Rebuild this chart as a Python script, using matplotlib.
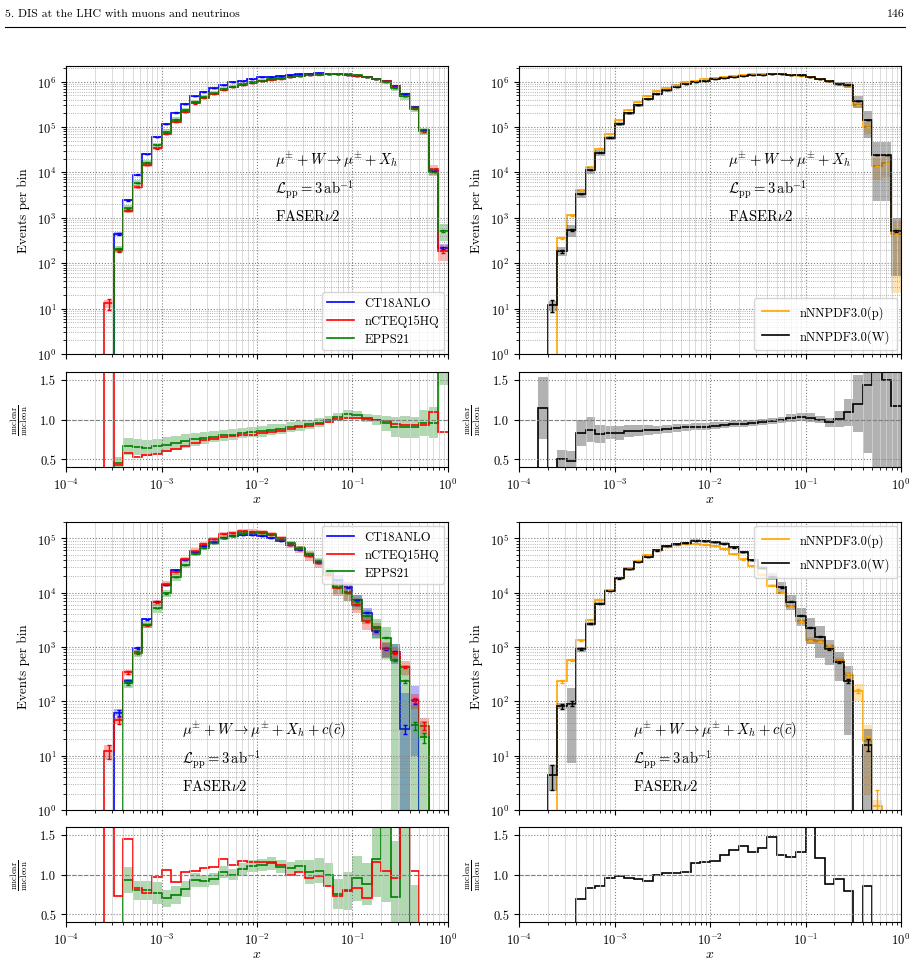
import numpy as np
import matplotlib
matplotlib.use('Agg')
import matplotlib.pyplot as plt
from matplotlib.lines import Line2D
from matplotlib.ticker import FixedLocator, FormatStrFormatter, LogLocator, NullFormatter

plt.rcParams['font.family'] = 'serif'
plt.rcParams['font.serif'] = ['cmr10']
plt.rcParams['mathtext.fontset'] = 'cm'
plt.rcParams['axes.formatter.use_mathtext'] = True

# 10 log bins per decade, 1e-4 .. 1
edges = np.logspace(-4, 0, 41)
centers = np.sqrt(edges[:-1] * edges[1:])

# ---------------- DIS (top row) ----------------
ct18_dis = [0, 0, 0, 0, 0, 447, 2450, 8950, 25700, 60000, 115000, 208000, 324000, 470000, 600000,
            715000, 850000, 960000, 1050000, 1150000, 1230000, 1290000, 1350000, 1410000, 1450000,
            1500000, 1520000, 1500000, 1450000, 1400000, 1320000, 1250000, 1150000, 1040000, 790000,
            520000, 280000, 85000, 10700, 215]
nctq_dis = [0, 0, 0, 0, 13, 192, 1420, 4740, 14300, 33600, 69000, 131000, 217000, 329000, 441000,
            543000, 663000, 758000, 840000, 932000, 1021000, 1090000, 1161000, 1241000, 1305000,
            1380000, 1429000, 1455000, 1457000, 1428000, 1353000, 1262000, 1144000, 1019000, 743000,
            484000, 262000, 79500, 11700, 182]
epps_dis = [0, 0, 0, 0, 0, 201, 1620, 5820, 16450, 39600, 78200, 145600, 236500, 352500, 462000,
            561000, 680000, 777600, 871500, 966000, 1045500, 1122300, 1194750, 1269000, 1334000,
            1410000, 1459000, 1500000, 1493500, 1491000, 1392600, 1275000, 1144250, 993200, 718900,
            470600, 252000, 81600, 10270, 516]
unc_ct18_dis = [0, 0, 0, 0, 0, 0.10, 0.06, 0.05, 0.04, 0.04, 0.03, 0.03, 0.03, 0.03, 0.03, 0.03, 0.03,
                0.03, 0.03, 0.03, 0.03, 0.03, 0.03, 0.03, 0.03, 0.03, 0.03, 0.03, 0.03, 0.03, 0.03,
                0.03, 0.03, 0.03, 0.04, 0.05, 0.06, 0.08, 0.10, 0.20]
unc_nctq_dis = [0, 0, 0, 0, 0.20, 0.10, 0.12, 0.10, 0.08, 0.06, 0.05, 0.05, 0.05, 0.04, 0.04, 0.04,
                0.04, 0.04, 0.03, 0.03, 0.03, 0.03, 0.03, 0.03, 0.03, 0.03, 0.03, 0.03, 0.03, 0.03,
                0.03, 0.03, 0.03, 0.04, 0.05, 0.06, 0.08, 0.12, 0.25, 0.40]
unc_epps_dis = [0, 0, 0, 0, 0, 0.17, 0.17, 0.15, 0.15, 0.14, 0.14, 0.13, 0.12, 0.11, 0.10, 0.09, 0.09,
                0.09, 0.08, 0.08, 0.08, 0.08, 0.07, 0.07, 0.07, 0.06, 0.06, 0.05, 0.05, 0.05, 0.05,
                0.05, 0.06, 0.10, 0.14, 0.15, 0.15, 0.17, 0.20, 0.40]
ratio_nctq_dis = [0, 0, 0, 0, 50, 0.43, 0.58, 0.53, 0.555, 0.56, 0.60, 0.63, 0.67, 0.70, 0.735, 0.76,
                  0.78, 0.79, 0.80, 0.81, 0.83, 0.845, 0.86, 0.88, 0.90, 0.92, 0.94, 0.97, 1.005, 1.02,
                  1.025, 1.01, 0.995, 0.98, 0.94, 0.93, 0.935, 0.935, 1.09, 0.845]
ratio_epps_dis = [0, 0, 0, 0, 0, 0.45, 0.66, 0.65, 0.64, 0.66, 0.68, 0.70, 0.73, 0.75, 0.77, 0.785,
                  0.80, 0.81, 0.83, 0.84, 0.85, 0.87, 0.885, 0.90, 0.92, 0.94, 0.96, 1.00, 1.03, 1.065,
                  1.055, 1.02, 0.995, 0.955, 0.91, 0.905, 0.90, 0.96, 0.96, 2.4]

nnpdf_p_dis = [0, 0, 0.35, 0, 365, 1140, 4050, 13000, 33500, 70000, 140000, 235000, 350000, 480000,
               610000, 730000, 850000, 960000, 1050000, 1140000, 1220000, 1290000, 1350000, 1400000,
               1450000, 1480000, 1490000, 1460000, 1400000, 1320000, 1240000, 1150000, 1040000, 900000,
               780000, 310000, 99000, 13700, 16000, 436]
nnpdf_w_dis = [0, 0, 0.40, 11.7, 182, 536, 3360, 11300, 27300, 58500, 116000, 200000, 301000, 415000,
               531000, 642000, 756000, 864000, 955000, 1037000, 1122000, 1200000, 1269000, 1323000,
               1385000, 1428000, 1460000, 1453000, 1428000, 1366000, 1271000, 1150000, 1004000, 904000,
               850000, 372000, 142000, 24000, 24000, 510]
unc_p_dis = [0, 0, 0.10, 0, 0.05, 0.04, 0.04, 0.03, 0.03, 0.03, 0.03, 0.03, 0.03, 0.03, 0.03, 0.03,
             0.03, 0.03, 0.03, 0.03, 0.03, 0.03, 0.03, 0.03, 0.03, 0.03, 0.03, 0.03, 0.03, 0.03, 0.03,
             0.03, 0.03, 0.04, 0.08, 0.15, 0.30, 0.50, 0.50, 0.95]
unc_w_dis = [0, 0, 0.34, 0.25, 0.22, 0.28, 0.20, 0.18, 0.14, 0.10, 0.10, 0.09, 0.08, 0.07, 0.06, 0.06,
             0.06, 0.05, 0.05, 0.05, 0.05, 0.04, 0.04, 0.04, 0.04, 0.04, 0.04, 0.04, 0.05, 0.05, 0.05,
             0.05, 0.06, 0.10, 0.16, 0.30, 0.60, 0.90, 0.90, 0.90]
ratio_w_dis = [0, 0, 1.15, 0, 0.50, 0.47, 0.83, 0.87, 0.815, 0.835, 0.83, 0.85, 0.86, 0.865, 0.87, 0.88,
               0.89, 0.90, 0.91, 0.91, 0.92, 0.93, 0.94, 0.945, 0.955, 0.965, 0.98, 0.995, 1.02, 1.035,
               1.025, 1.00, 0.965, 1.005, 1.09, 1.20, 1.43, 1.75, 1.50, 1.17]

# ---------------- charm (bottom row) ----------------
ct18_c = [0, 0, 0, 0, 0, 62, 234, 960, 3240, 6800, 13800, 26000, 40000, 56500, 73000, 87000, 100000,
          112000, 115000, 115000, 112000, 103000, 89000, 76000, 61000, 49000, 36000, 24500, 17000,
          12500, 7300, 4260, 1950, 910, 810, 31, 100, 0, 0, 0]
nctq_c = [0, 0, 0, 0, 12, 45, 340, 797, 2495, 6600, 14600, 23700, 41200, 59300, 78800, 95700, 119000,
          125000, 134500, 133400, 130000, 119500, 99700, 75200, 62800, 47000, 35300, 21000, 12400,
          10100, 6060, 2980, 2260, 955, 770, 430, 104, 35, 0, 0]
epps_c = [0, 0, 0, 0, 0, 0, 218, 768, 2590, 5200, 9660, 19200, 32800, 52500, 67200, 81800, 103000,
          111000, 123000, 127600, 125400, 117400, 97900, 82100, 67700, 50500, 37800, 24500, 12800,
          9900, 6940, 3750, 2320, 1480, 575, 236, 36, 22, 0, 0]
unc_ct18_c = [0, 0, 0, 0, 0, 0.15, 0.08, 0.06, 0.05, 0.05, 0.05, 0.05, 0.05, 0.05, 0.05, 0.05, 0.05,
              0.05, 0.05, 0.05, 0.05, 0.05, 0.05, 0.05, 0.06, 0.06, 0.08, 0.08, 0.25, 0.25, 0.25, 0.25,
              0.25, 0.30, 0.40, 3.50, 0.90, 0, 0, 0]
unc_nctq_c = [0, 0, 0, 0, 0.30, 0.15, 0.10, 0.10, 0.12, 0.12, 0.12, 0.12, 0.12, 0.12, 0.10, 0.10,
              0.10, 0.10, 0.10, 0.10, 0.10, 0.10, 0.10, 0.12, 0.15, 0.20, 0.20, 0.20, 0.30, 0.30, 0.30,
              0.30, 0.25, 0.30, 0.30, 0.30, 0.30, 0.40, 0, 0]
unc_epps_c = [0, 0, 0, 0, 0, 0, 0.18, 0.15, 0.15, 0.18, 0.15, 0.15, 0.12, 0.10, 0.08, 0.08, 0.07,
              0.07, 0.07, 0.07, 0.07, 0.07, 0.07, 0.07, 0.07, 0.15, 0.15, 0.15, 0.25, 0.30, 0.30, 0.30,
              0.40, 0.60, 1.00, 1.00, 1.40, 1.00, 0, 0]
ratio_nctq_c = [0, 0, 0, 0, 50, 0.73, 1.45, 0.83, 0.77, 0.97, 1.06, 0.91, 1.03, 1.05, 1.08, 1.10, 1.19,
                1.12, 1.17, 1.16, 1.16, 1.16, 1.12, 0.99, 1.03, 0.96, 0.98, 0.86, 0.73, 0.81, 0.83,
                0.70, 1.16, 1.05, 0.95, 13.9, 1.04, 0, 0, 0]
ratio_epps_c = [0, 0, 0, 0, 0, 0, 0.93, 0.80, 0.80, 0.765, 0.70, 0.74, 0.82, 0.93, 0.92, 0.94, 1.03,
                0.995, 1.07, 1.11, 1.12, 1.14, 1.10, 1.08, 1.11, 1.03, 1.05, 1.00, 0.75, 0.79, 0.95,
                0.88, 1.19, 1.63, 0.71, 7.6, 0.36, 0, 0, 0]

nnpdf_p_c = [0, 0, 0, 0, 234, 585, 1320, 3200, 7300, 11200, 18700, 28500, 39000, 50000, 60000, 70000,
             76000, 79000, 79000, 77000, 73000, 64000, 52000, 41000, 31000, 21500, 13500, 10000, 5600,
             2950, 1330, 1270, 1040, 565, 300, 155, 19, 1.2, 0, 0]
nnpdf_w_c = [0, 0, 0, 4.5, 82, 90, 910, 2660, 6280, 10750, 18300, 27200, 36900, 46000, 60000, 71400,
             77900, 81800, 90900, 88900, 85400, 79700, 68100, 55800, 39700, 28600, 19800, 12500, 6830,
             3800, 2260, 1540, 915, 530, 237, 0, 16, 0, 0, 0]
unc_p_c = [0, 0, 0, 0, 0.05, 0.04, 0.03, 0.03, 0.03, 0.03, 0.03, 0.03, 0.03, 0.03, 0.03, 0.03, 0.03,
           0.03, 0.03, 0.03, 0.03, 0.03, 0.03, 0.03, 0.03, 0.03, 0.05, 0.05, 0.08, 0.10, 0.15, 0.10,
           0.10, 0.15, 0.15, 0.35, 0.90, 0.30, 0, 0]
unc_w_c = [0, 0, 0, 0.50, 0.12, 0.92, 0.10, 0.08, 0.07, 0.06, 0.06, 0.06, 0.06, 0.06, 0.06, 0.06,
           0.06, 0.06, 0.06, 0.06, 0.06, 0.06, 0.06, 0.06, 0.06, 0.08, 0.15, 0.25, 0.30, 0.35, 0.50,
           0.60, 0.50, 0.55, 0.90, 0, 0.95, 0, 0, 0]
ratio_w_c = [0, 0, 0, 0, 0.35, 0.15, 0.69, 0.83, 0.86, 0.96, 0.98, 0.955, 0.945, 0.92, 1.0, 1.02,
             1.025, 1.035, 1.15, 1.155, 1.17, 1.245, 1.31, 1.36, 1.28, 1.33, 1.47, 1.25, 1.22, 1.29,
             1.70, 1.21, 0.88, 0.94, 0.79, 0, 0.85, 0, 0, 0]

proc_dis = r'$\mu^{\pm} + W \rightarrow \mu^{\pm} + X_h$'
proc_c = r'$\mu^{\pm} + W \rightarrow \mu^{\pm} + X_h + c(\bar{c})$'
lumi = r'$\mathcal{L}_{\rm pp} = 3\,{\rm ab}^{-1}$'
det = r'FASER$\nu$2'


def style_grid(ax):
    ax.set_xscale('log')
    ax.set_xlim(1e-4, 1)
    ax.grid(True, which='major', ls=':', color='gray', lw=0.8)
    ax.xaxis.grid(True, which='minor', ls='-', color='lightgray', lw=0.7, alpha=0.8)
    ax.yaxis.grid(True, which='minor', ls=':', color='gray', lw=0.6, alpha=0.8)
    ax.tick_params(labelsize=9)


def draw_main(ax, series, ymax, legend_kw, text_xy, proc):
    handles = []
    for vals, unc, color, label in series:
        v = np.array(vals, float)
        r = np.array(unc, float)
        lo = np.clip(v * (1 - r), 1e-3, None)
        hi = np.clip(v * (1 + r), 1e-3, None)
        ax.stairs(hi, edges, baseline=lo, fill=True, color=color, alpha=0.3, lw=0)
        ax.stairs(v, edges, baseline=None, color=color, lw=1.2)
        m = v >= 1
        ax.errorbar(centers[m], v[m], yerr=np.sqrt(v[m]), fmt='none', ecolor=color,
                    elinewidth=1.0, capsize=1.5, capthick=1.0)
        handles.append(Line2D([], [], color=color, lw=1.2, label=label))
    ax.set_yscale('log')
    style_grid(ax)
    ax.set_ylim(1, ymax)
    ax.yaxis.set_major_locator(LogLocator(base=10, numticks=10))
    ax.yaxis.set_minor_locator(LogLocator(base=10, subs=np.arange(2, 10), numticks=50))
    ax.yaxis.set_minor_formatter(NullFormatter())
    ax.tick_params(axis='x', labelbottom=False)
    ax.set_ylabel('Events per bin', fontsize=9.5)
    ax.yaxis.set_label_coords(-0.095, 0.5)
    ax.legend(handles=handles, fontsize=9, handlelength=2.2, borderaxespad=0.3, **legend_kw)
    tx, ty = text_xy
    ax.text(tx, ty, proc, transform=ax.transAxes, fontsize=10.5, va='center')
    ax.text(tx, ty - 0.103, lumi, transform=ax.transAxes, fontsize=10.5, va='center')
    ax.text(tx, ty - 0.197, det, transform=ax.transAxes, fontsize=10.5, va='center')


def draw_ratio(ax, ratios):
    for vals, unc, color, band in ratios:
        v = np.array(vals, float)
        r = np.array(unc, float)
        if band is not None:
            ax.stairs(v * (1 + r), edges, baseline=v * (1 - r), fill=True, color=band[0],
                      alpha=band[1], lw=0)
        ax.stairs(v, edges, baseline=None, color=color, lw=1.2)
    ax.axhline(1.0, ls='--', color='gray', lw=0.8)
    style_grid(ax)
    ax.set_ylim(0.4, 1.6)
    ax.yaxis.set_major_locator(FixedLocator([0.5, 1.0, 1.5]))
    ax.yaxis.set_major_formatter(FormatStrFormatter('%.1f'))
    ax.set_xlabel(r'$x$', fontsize=10, labelpad=1)
    ax.set_ylabel(r'$\frac{\rm nuclear}{\rm nucleon}$', fontsize=9)
    ax.yaxis.set_label_coords(-0.095, 0.5)


fig = plt.figure(figsize=(9.2, 9.62), dpi=100)

W = 382 / 920
HM = 288 / 962
HR = 95 / 962
left_x = 66 / 920
right_x = 519 / 920

ax_tl = fig.add_axes([left_x, 1 - 355 / 962, W, HM])
ax_tlr = fig.add_axes([left_x, 1 - 468 / 962, W, HR])
ax_tr = fig.add_axes([right_x, 1 - 355 / 962, W, HM])
ax_trr = fig.add_axes([right_x, 1 - 468 / 962, W, HR])
ax_bl = fig.add_axes([left_x, 1 - 811 / 962, W, HM])
ax_blr = fig.add_axes([left_x, 1 - 923 / 962, W, HR])
ax_br = fig.add_axes([right_x, 1 - 811 / 962, W, HM])
ax_brr = fig.add_axes([right_x, 1 - 923 / 962, W, HR])

draw_main(ax_tl, [(ct18_dis, unc_ct18_dis, 'blue', 'CT18ANLO'),
                  (nctq_dis, unc_nctq_dis, 'red', 'nCTEQ15HQ'),
                  (epps_dis, unc_epps_dis, 'green', 'EPPS21')],
          2.2e6, dict(loc='lower right', labelspacing=0.45), (0.547, 0.677), proc_dis)
draw_main(ax_tr, [(nnpdf_p_dis, unc_p_dis, 'orange', 'nNNPDF3.0(p)'),
                  (nnpdf_w_dis, unc_w_dis, 'black', 'nNNPDF3.0(W)')],
          2.2e6, dict(loc='lower right', labelspacing=0.8, borderpad=0.6), (0.547, 0.677), proc_dis)
draw_main(ax_bl, [(ct18_c, unc_ct18_c, 'blue', 'CT18ANLO'),
                  (nctq_c, unc_nctq_c, 'red', 'nCTEQ15HQ'),
                  (epps_c, unc_epps_c, 'green', 'EPPS21')],
          2.0e5, dict(loc='upper right', labelspacing=0.45), (0.304, 0.281), proc_c)
draw_main(ax_br, [(nnpdf_p_c, unc_p_c, 'orange', 'nNNPDF3.0(p)'),
                  (nnpdf_w_c, unc_w_c, 'black', 'nNNPDF3.0(W)')],
          2.0e5, dict(loc='upper right', labelspacing=0.8, borderpad=0.6), (0.298, 0.281), proc_c)

draw_ratio(ax_tlr, [(ratio_epps_dis, unc_epps_dis, 'green', ('green', 0.3)),
                    (ratio_nctq_dis, unc_nctq_dis, 'red', None)])
draw_ratio(ax_trr, [(ratio_w_dis, unc_w_dis, 'black', ('gray', 0.6))])
draw_ratio(ax_blr, [(ratio_epps_c, unc_epps_c, 'green', ('green', 0.3)),
                    (ratio_nctq_c, unc_nctq_c, 'red', None)])
draw_ratio(ax_brr, [(ratio_w_c, unc_w_c, 'black', None)])

# page header
fig.text(5 / 920, 1 - 14 / 962, '5. DIS at the LHC with muons and neutrinos', fontsize=8.5, va='center')
fig.text(905 / 920, 1 - 14 / 962, '146', fontsize=8.5, va='center', ha='right')
fig.add_artist(Line2D([5 / 920, 905 / 920], [1 - 28 / 962, 1 - 28 / 962], color='black', lw=0.8))

fig.savefig('out.png', dpi=100)
